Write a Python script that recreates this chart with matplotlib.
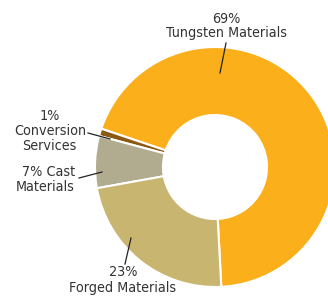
import matplotlib
matplotlib.use("Agg")
import matplotlib.pyplot as plt

labels = ["Tungsten Materials", "Conversion Services", "Cast Materials", "Forged Materials"]
values = [69, 1, 7, 23]
colors = ["#FBAF1A", "#8A5A14", "#B1AC8F", "#C8B56F"]

plt.rcParams['font.family'] = ['DejaVu Sans']
plt.rcParams['font.stretch'] = 'condensed'

W, H = 328, 301
fig = plt.figure(figsize=(W/100, H/100), dpi=100)
ax = fig.add_axes([0, 0, 1, 1])
ax.set_xlim(0, W)
ax.set_ylim(0, H)
ax.set_aspect('equal')
ax.axis('off')

cx, cy = 215, H - 167
R = 120
ax.pie(values, colors=colors, startangle=-87, counterclock=True,
       center=(cx, cy), radius=R, frame=True,
       wedgeprops=dict(width=R - 52, edgecolor='white', linewidth=1.5))
ax.set_xlim(0, W)
ax.set_ylim(0, H)
ax.axis('off')

tc = '#333333'
fs = 10.3
def t(x, y, s, ha='center'):
    ax.text(x, H - y, s, ha=ha, va='center', fontsize=fs, color=tc,
            linespacing=1.0, fontstretch='condensed')
def line(x0, y0, x1, y1):
    ax.plot([x0, x1], [H - y0, H - y1], color='#222222', lw=0.9)

t(226, 19, "69%")
t(227, 33, "Tungsten Materials")
line(226, 43, 220, 73)

t(50, 116, "1%")
t(50, 131, "Conversion")
t(49, 146, "Services")
line(88, 133, 110, 139)

t(75, 172, "7% Cast", ha='right')
t(75, 187, "Materials", ha='right')
line(79, 178, 102, 172)

t(123, 272, "23%")
t(123, 288, "Forged Materials")
line(125, 264, 131, 238)

fig.savefig("out.png", dpi=100)
